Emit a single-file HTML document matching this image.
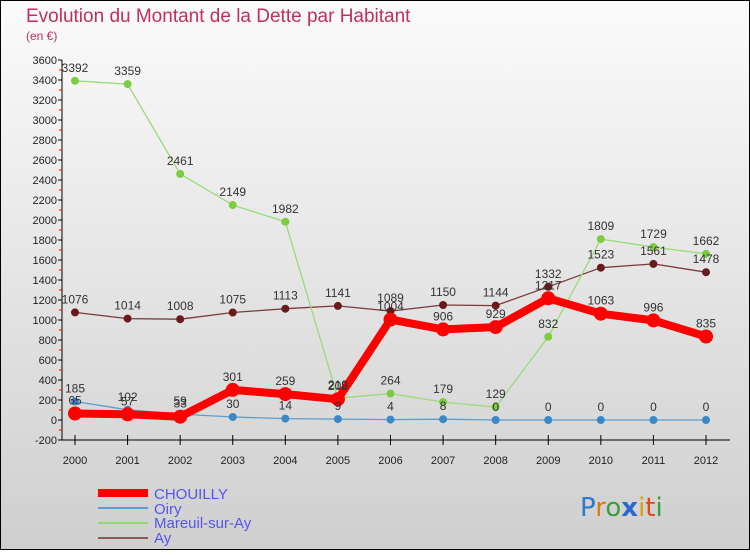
<!DOCTYPE html>
<html><head><meta charset="utf-8"><style>
html,body{margin:0;padding:0}
body{width:750px;height:550px;overflow:hidden;font-family:"Liberation Sans","DejaVu Sans",sans-serif}
</style></head><body>
<svg id="chart" width="750" height="550" xmlns="http://www.w3.org/2000/svg">
<defs><linearGradient id="bg" x1="0" y1="0" x2="0" y2="1"><stop offset="0" stop-color="#fbfbfb"/><stop offset="1" stop-color="#cfcfcf"/></linearGradient></defs>
<rect x="0.5" y="0.5" width="749" height="549" fill="url(#bg)" stroke="#000"/>
<text x="26" y="22" font-size="19" fill="#c0305a">Evolution du Montant de la Dette par Habitant</text>
<text x="26" y="40" font-size="12" fill="#c0305a">(en €)</text>
<g id="axes"></g><g id="series"></g><g id="labels"></g>
<g>
<rect x="98" y="489" width="50" height="8" fill="#f00"/>
<text x="154" y="499" font-size="15" fill="#5555ee">CHOUILLY</text>
<line x1="98" y1="508" x2="148" y2="508" stroke="#5a9ed0" stroke-width="2"/>
<text x="154" y="514" font-size="15" fill="#5555ee">Oiry</text>
<line x1="98" y1="523" x2="148" y2="523" stroke="#90d870" stroke-width="2"/>
<text x="154" y="528" font-size="15" fill="#5555ee">Mareuil-sur-Ay</text>
<line x1="98" y1="538" x2="148" y2="538" stroke="#8a5a5a" stroke-width="2"/>
<text x="154" y="543" font-size="15" fill="#5555ee">Ay</text>
</g>
<g font-size="26" font-family="'DejaVu Sans',sans-serif">
<text x="580" y="516"><tspan fill="#2a7ad0">P</tspan><tspan fill="#e07a10">r</tspan><tspan fill="#3aa03a">o</tspan><tspan fill="#2a6ad0" font-weight="bold">x</tspan><tspan fill="#e0a010">i</tspan><tspan fill="#e04a10">t</tspan><tspan fill="#3aa03a">i</tspan></text>
</g>
</svg>
<script>
const years=[2000,2001,2002,2003,2004,2005,2006,2007,2008,2009,2010,2011,2012];
const yTicks=[-200,0,200,400,600,800,1000,1200,1400,1600,1800,2000,2200,2400,2600,2800,3000,3200,3400,3600];
const chouilly=[65,57,33,301,259,208,1004,906,929,1217,1063,996,835];
const oiry=[185,102,59,30,14,9,4,8,0,0,0,0,0];
const mareuil=[3392,3359,2461,2149,1982,219,264,179,129,832,1809,1729,1662];
const ay=[1076,1014,1008,1075,1113,1141,1089,1150,1144,1332,1523,1561,1478];
const NS="http://www.w3.org/2000/svg";
const X=i=>75+i*(706-75)/12;
const Y=v=>420-v*0.1;
function mk(p,t,a){const e=document.createElementNS(NS,t);for(const k in a)e.setAttribute(k,a[k]);p.appendChild(e);return e;}
const ax=document.getElementById('axes');
let l=mk(ax,'line',{x1:62,y1:60,x2:62,y2:440,stroke:'#000'});

l=mk(ax,'line',{x1:62,y1:440,x2:730,y2:440,stroke:'#000'});

yTicks.forEach(v=>{
 mk(ax,'line',{x1:58,y1:Y(v),x2:62,y2:Y(v),stroke:'#000'});
 if(v<3600) mk(ax,'line',{x1:59,y1:Y(v+100),x2:62,y2:Y(v+100),stroke:'#f00'});
 const t=mk(ax,'text',{x:57,y:Y(v)+4,'font-size':11,'text-anchor':'end',fill:'#222'});
 t.textContent=v;
 
});
years.forEach((yr,i)=>{
 mk(ax,'line',{x1:X(i),y1:435,x2:X(i),y2:445,stroke:'#000'});
 const t=mk(ax,'text',{x:X(i),y:464,'font-size':11,'text-anchor':'middle',fill:'#222'});
 t.textContent=yr;
 
});
const sg=document.getElementById('series'),lg=document.getElementById('labels');
function draw(name,data,color,w,r,dot){
 const g=mk(sg,'g',{});
 
 const pl=mk(g,'polyline',{points:data.map((v,i)=>X(i)+','+Y(v)).join(' '),fill:'none',stroke:color,'stroke-width':w,'stroke-linejoin':'round'});
 
 data.forEach((v,i)=>{
  const c=mk(g,'circle',{cx:X(i),cy:Y(v),r:r,fill:dot});
  
  const t=mk(lg,'text',{x:X(i),y:Y(v)-9,'font-size':12,'text-anchor':'middle',fill:'#333'});
  t.textContent=v;
  
 });
}
draw('ay',ay,'#7a3a3a',1.3,4,'#6a1a1a');
draw('mareuil',mareuil,'#98dc78',1.3,4,'#7ccc40');
draw('oiry',oiry,'#5a9ed0',1.3,4,'#3a88c8');
draw('chouilly',chouilly,'#f00',8,7,'#f00');
</script>
</body></html>
